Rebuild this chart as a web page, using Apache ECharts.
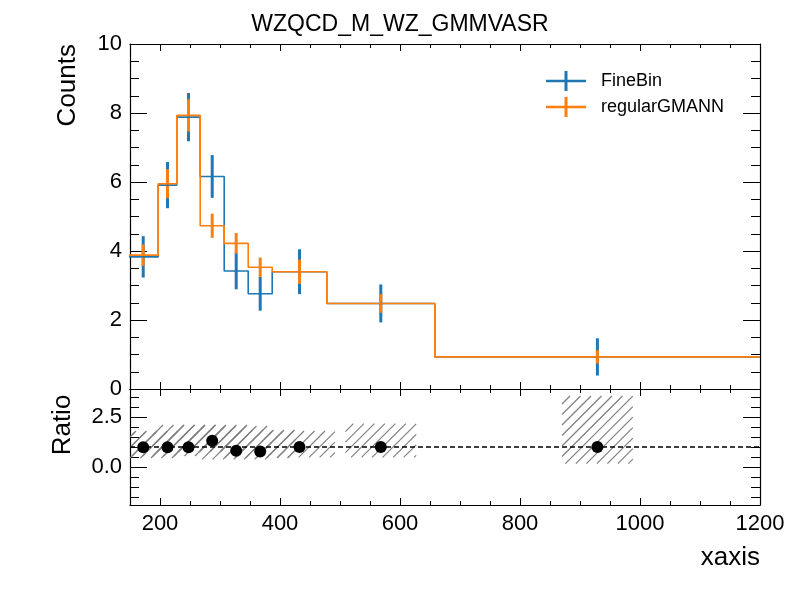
<!DOCTYPE html>
<html>
<head>
<meta charset="utf-8">
<script src="https://cdn.jsdelivr.net/npm/echarts@6/dist/echarts.min.js"></script>
<style>
  html, body { margin: 0; padding: 0; background: #fff; }
  #main { width: 800px; height: 600px; }
</style>
</head>
<body>
<div id="main"></div>
<script>
// bin edges and histogram contents
const edges = [147, 197, 228, 267, 307, 347, 387, 478, 658, 1200];
const fineBin = [3.83, 5.91, 7.88, 6.16, 3.42, 2.76, 3.40, 2.48, 0.93];
const fineBinErr = [0.60, 0.67, 0.70, 0.62, 0.53, 0.49, 0.65, 0.55, 0.54];
const regular = [3.88, 5.95, 7.93, 4.73, 4.22, 3.53, 3.40, 2.48, 0.93];
const regularErr = [0.31, 0.42, 0.47, 0.35, 0.30, 0.28, 0.35, 0.27, 0.19];

// ratio panel
const ratio = [0.99, 0.99, 0.99, 1.31, 0.81, 0.77, 1.0, 1.0, 1.0];
const ratioLow = [0.45, 0.55, 0.75, 0.80, 0.38, 0.45, 0.48, 0.48, 0.17];
const ratioHigh = [1.75, 1.80, 2.10, 2.10, 2.05, 1.85, 1.80, 2.17, 3.55];
const ratioRef = 1;

// ticks
const xMin = 150, xMax = 1200;
const xMajorTicks = [200, 400, 600, 800, 1000, 1200];
const ratioMin = -1.9, ratioMax = 3.9;
const ratioMajorTicks = [0, 2.5];
const ratioMinorTicks = [-1.5, -1, -0.5, 0.5, 1, 1.5, 2, 3, 3.5];

const font = 'Liberation Sans, Arial, sans-serif';
const blue = '#1f77b4', orange = '#ff7f0e';
const hatchHalf = 59;      // half width of the hatched boxes, in x units
const hatchStep = 10.5;    // px between hatch lines

const centers = fineBin.map((_, i) => (edges[i] + edges[i + 1]) / 2);
const stepData = vals => edges.map((e, i) => [e, vals[Math.min(i, vals.length - 1)]]);

function xMajor(gridIndex, position, labels) {
  return {
    type: 'value', gridIndex, position, min: xMin, max: xMax,
    axisLine: { show: true, onZero: false, lineStyle: { color: '#000', width: 1.2 } },
    axisTick: { inside: true, length: 7, customValues: xMajorTicks, lineStyle: { color: '#000' } },
    axisLabel: { show: labels, customValues: xMajorTicks, formatter: v => String(v),
      margin: 8, fontSize: 22, color: '#000', fontFamily: font },
    splitLine: { show: false }
  };
}
function xMinor(gridIndex, position) {
  return {
    type: 'value', gridIndex, position, min: xMin, max: xMax, interval: 50,
    axisLine: { show: false, onZero: false },
    axisTick: { inside: true, length: 4, lineStyle: { color: '#000' } },
    axisLabel: { show: false }, splitLine: { show: false }
  };
}
function yMain(position, labels) {
  return {
    type: 'value', gridIndex: 0, position, min: 0, max: 10, interval: 2,
    axisLine: { show: true, onZero: false, lineStyle: { color: '#000', width: 1.2 } },
    axisTick: { inside: true, length: 17, lineStyle: { color: '#000' } },
    minorTick: { show: true, splitNumber: 4, length: 9, lineStyle: { color: '#000' } },
    axisLabel: { show: labels, margin: 8, fontSize: 22, color: '#000', fontFamily: font },
    splitLine: { show: false }, minorSplitLine: { show: false }
  };
}
function yRatio(position, major, labels) {
  return {
    type: 'value', gridIndex: 1, position, min: ratioMin, max: ratioMax,
    axisLine: { show: major, onZero: false, lineStyle: { color: '#000', width: 1.2 } },
    axisTick: { inside: true, length: major ? 17 : 9,
      customValues: major ? ratioMajorTicks : ratioMinorTicks, lineStyle: { color: '#000' } },
    axisLabel: { show: labels, customValues: ratioMajorTicks, formatter: v => v.toFixed(1),
      margin: 8, fontSize: 22, color: '#000', fontFamily: font },
    splitLine: { show: false }
  };
}

function errBars(vals, errs, color) {
  return {
    type: 'custom',
    xAxisIndex: 0, yAxisIndex: 0,
    data: centers.map((c, i) => [c, vals[i], errs[i]]),
    encode: { x: 0, y: 1 },
    renderItem: (params, api) => {
      const x = api.value(0), v = api.value(1), e = api.value(2);
      const p1 = api.coord([x, v - e]);
      const p2 = api.coord([x, v + e]);
      return { type: 'line', shape: { x1: p1[0], y1: p1[1], x2: p2[0], y2: p2[1] },
               style: { stroke: color, lineWidth: 3 } };
    }
  };
}

const plusIcon = 'path://M0,8.8 L40,8.8 L40,11.2 L0,11.2 Z M18.5,0 L21.5,0 L21.5,20 L18.5,20 Z';

const chart = echarts.init(document.getElementById('main'));
chart.setOption({
  animation: false,
  backgroundColor: '#fff',
  title: {
    text: 'WZQCD_M_WZ_GMMVASR', left: 'center', top: 8,
    textStyle: { fontSize: 23, fontWeight: 'normal', color: '#000', fontFamily: font }
  },
  legend: {
    orient: 'vertical', left: 541, top: 66,
    itemWidth: 40, itemHeight: 20, itemGap: 6,
    textStyle: { fontSize: 18, color: '#000', fontFamily: font, padding: [0, 0, 0, 10] },
    data: [{ name: 'FineBin', icon: plusIcon }, { name: 'regularGMANN', icon: plusIcon }]
  },
  grid: [
    { left: 130, right: 40, top: 44, height: 345 },
    { left: 130, right: 40, top: 389, height: 116 }
  ],
  xAxis: [
    xMajor(0, 'bottom', false), xMinor(0, 'bottom'), xMajor(0, 'top', false), xMinor(0, 'top'),
    xMajor(1, 'bottom', true), xMinor(1, 'bottom'), xMajor(1, 'top', false), xMinor(1, 'top')
  ],
  yAxis: [
    yMain('left', true), yMain('right', false),
    yRatio('left', true, true), yRatio('left', false, false),
    yRatio('right', true, false), yRatio('right', false, false)
  ],
  graphic: [
    { type: 'text', x: 68, y: 44, rotation: Math.PI / 2,
      style: { text: 'Counts', font: '26px ' + font, fill: '#000', textAlign: 'right', textVerticalAlign: 'middle' } },
    { type: 'text', x: 63, y: 425, rotation: Math.PI / 2,
      style: { text: 'Ratio', font: '26px ' + font, fill: '#000', textAlign: 'center', textVerticalAlign: 'middle' } },
    { type: 'text', x: 760, y: 558,
      style: { text: 'xaxis', font: '26px ' + font, fill: '#000', textAlign: 'right', textVerticalAlign: 'middle' } }
  ],
  series: [
    {
      name: 'FineBin', type: 'line', step: 'end', xAxisIndex: 0, yAxisIndex: 0,
      data: stepData(fineBin), showSymbol: false, color: blue,
      lineStyle: { color: blue, width: 1.6 }
    },
    Object.assign({ name: 'FineBin' }, errBars(fineBin, fineBinErr, blue)),
    {
      name: 'regularGMANN', type: 'line', step: 'end', xAxisIndex: 0, yAxisIndex: 0,
      data: stepData(regular), showSymbol: false, color: orange,
      lineStyle: { color: orange, width: 1.6 }
    },
    Object.assign({ name: 'regularGMANN' }, errBars(regular, regularErr, orange)),
    {
      type: 'custom', xAxisIndex: 4, yAxisIndex: 2,
      data: centers.map((c, i) => [c, ratioLow[i], ratioHigh[i]]),
      encode: { x: 0, y: [1, 2] },
      renderItem: (params, api) => {
        const x = api.value(0), lo = api.value(1), hi = api.value(2);
        const a = api.coord([x - hatchHalf, hi]);
        const b = api.coord([x + hatchHalf, lo]);
        const cs = params.coordSys;
        const x0 = Math.max(a[0], cs.x), x1 = Math.min(b[0], cs.x + cs.width);
        const y0 = a[1], y1 = b[1];
        const children = [];
        for (let c = Math.ceil((x0 + y0) / hatchStep) * hatchStep; c <= x1 + y1; c += hatchStep) {
          const xa = Math.max(x0, c - y1), xb = Math.min(x1, c - y0);
          if (xb <= xa) continue;
          children.push({ type: 'line', shape: { x1: xa, y1: c - xa, x2: xb, y2: c - xb },
                          style: { stroke: '#808080', lineWidth: 1.2 } });
        }
        return { type: 'group', children };
      }
    },
    {
      type: 'line', xAxisIndex: 4, yAxisIndex: 2,
      data: [[xMin, ratioRef], [xMax, ratioRef]], showSymbol: false,
      lineStyle: { color: '#000', width: 1.4, type: [5, 3], opacity: 1 }
    },
    {
      type: 'scatter', xAxisIndex: 4, yAxisIndex: 2,
      data: centers.map((c, i) => [c, ratio[i]]),
      symbolSize: 12, itemStyle: { color: '#000', opacity: 1 }
    }
  ]
});
</script>
</body>
</html>
